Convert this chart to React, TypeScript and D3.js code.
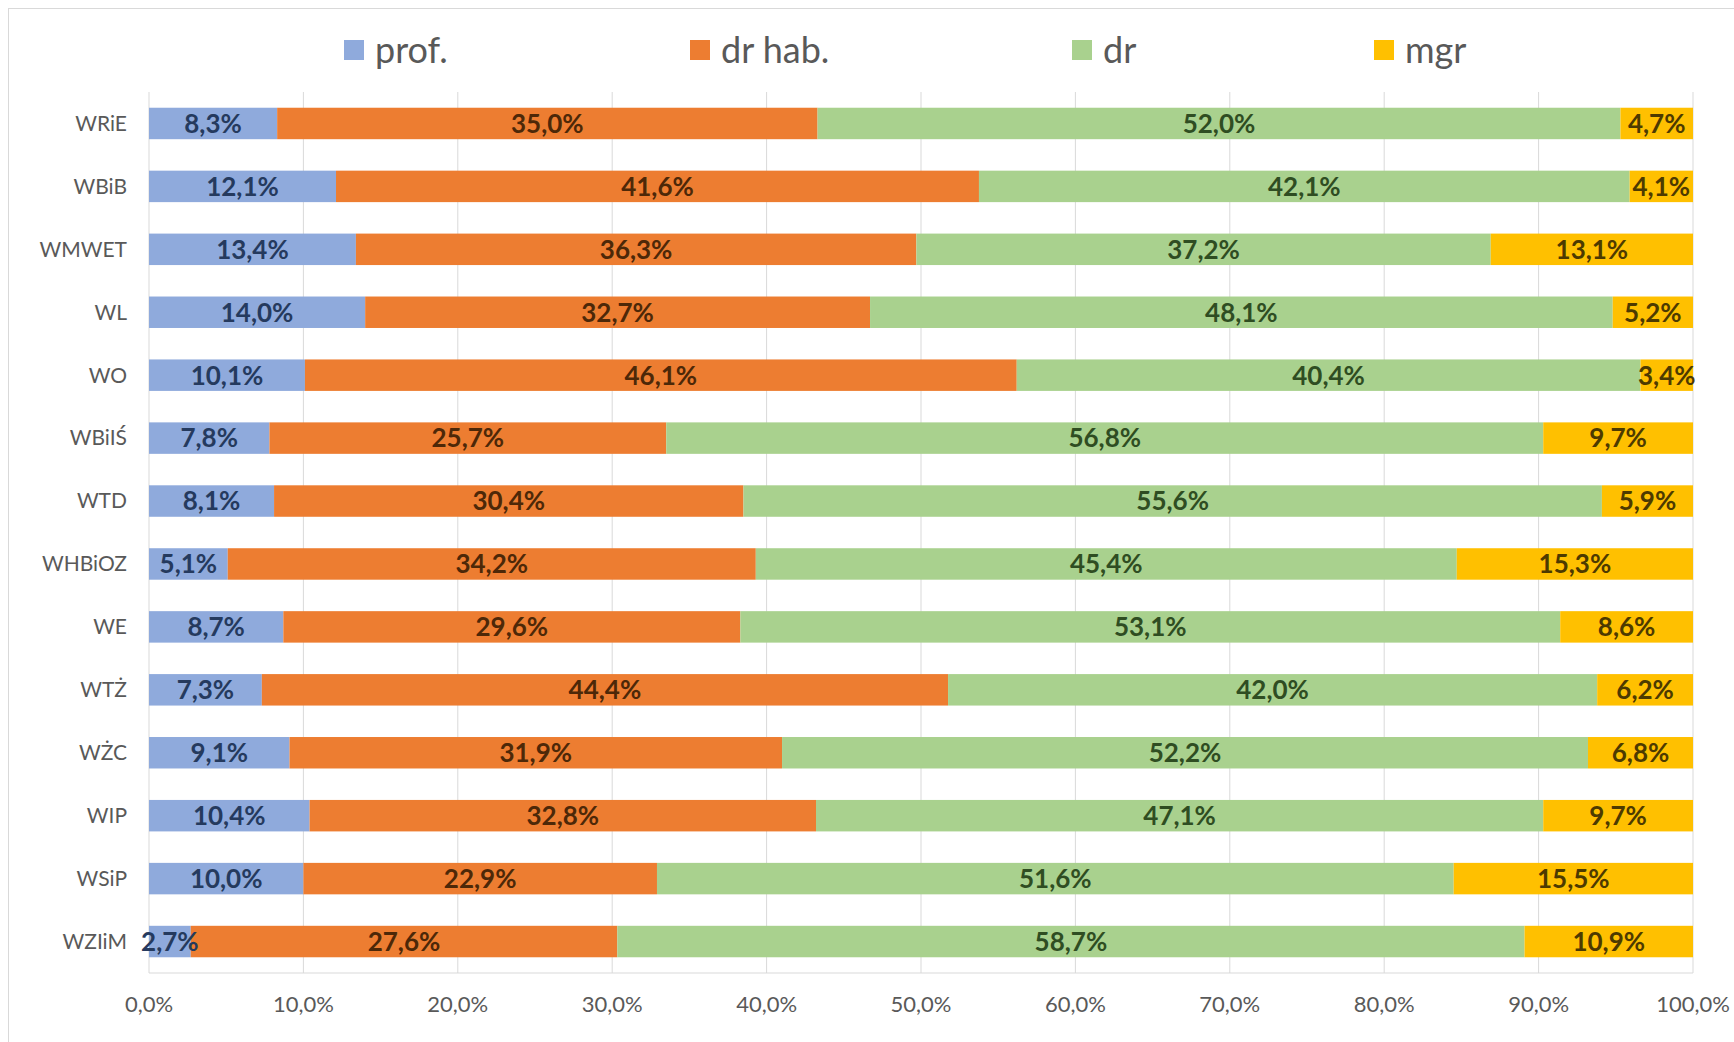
import * as d3 from "d3";

const CATEGORIES = [
  "WRiE", "WBiB", "WMWET", "WL", "WO", "WBiIŚ", "WTD",
  "WHBiOZ", "WE", "WTŻ", "WŻC", "WIP", "WSiP", "WZIiM",
];

const SERIES = ["prof.", "dr hab.", "dr", "mgr"];

const PROF = [8.3, 12.1, 13.4, 14.0, 10.1, 7.8, 8.1, 5.1, 8.7, 7.3, 9.1, 10.4, 10.0, 2.7];
const DR_HAB = [35.0, 41.6, 36.3, 32.7, 46.1, 25.7, 30.4, 34.2, 29.6, 44.4, 31.9, 32.8, 22.9, 27.6];
const DR = [52.0, 42.1, 37.2, 48.1, 40.4, 56.8, 55.6, 45.4, 53.1, 42.0, 52.2, 47.1, 51.6, 58.7];
const MGR = [4.7, 4.1, 13.1, 5.2, 3.4, 9.7, 5.9, 15.3, 8.6, 6.2, 6.8, 9.7, 15.5, 10.9];

const X_TICKS = [0, 0.1, 0.2, 0.3, 0.4, 0.5, 0.6, 0.7, 0.8, 0.9, 1];

const COLORS = ["#8faadc", "#ed7d31", "#a9d18e", "#ffc000"];
const LABEL_COLORS = ["#253a5e", "#4d2808", "#2f4d22", "#4d3a00"];

const WIDTH = 1734;
const HEIGHT = 1042;
const FONT = "Lato, 'Open Sans', sans-serif";

const margin = { top: 92, right: 41, bottom: 69, left: 149 };

const fmt = (v: number) => v.toFixed(1).replace(".", ",") + "%";

const App = () => {
  const rows = CATEGORIES.map((c, i) => ({
    cat: c,
    "prof.": PROF[i],
    "dr hab.": DR_HAB[i],
    dr: DR[i],
    mgr: MGR[i],
  }));

  // 100% stacked, like the spreadsheet chart
  const stack = d3
    .stack<any>()
    .keys(SERIES)
    .offset(d3.stackOffsetExpand);
  const layers = stack(rows);

  const x = d3
    .scaleLinear()
    .domain([0, 1])
    .range([margin.left, WIDTH - margin.right]);

  const y = d3
    .scaleBand()
    .domain(CATEGORIES)
    .range([margin.top, HEIGHT - margin.bottom])
    .paddingInner(0.5)
    .paddingOuter(0.25);

  const legendX = [344, 690, 1072, 1374];

  return (
    <svg
      width={WIDTH}
      height={HEIGHT}
      style={{ position: "absolute", left: 0, top: 0, background: "#fff" }}
      fontFamily={FONT}
    >
      <rect x={8.5} y={8.5} width={1800} height={1100} fill="#fff" stroke="#d9d9d9" />

      {/* legend */}
      {SERIES.map((s, i) => (
        <g key={s} transform={`translate(${legendX[i]}, 50)`}>
          <rect x={0} y={-10} width={20} height={20} fill={COLORS[i]} />
          <text x={31} y={0} dy="0.35em" fontSize={36} fill="#595959">
            {s}
          </text>
        </g>
      ))}

      {/* gridlines */}
      {X_TICKS.map((t) => (
        <line
          key={t}
          x1={x(t)}
          x2={x(t)}
          y1={margin.top}
          y2={HEIGHT - margin.bottom}
          stroke="#d9d9d9"
          strokeWidth={1}
        />
      ))}
      <line
        x1={x(0)}
        x2={x(1)}
        y1={HEIGHT - margin.bottom}
        y2={HEIGHT - margin.bottom}
        stroke="#d9d9d9"
      />

      {/* bars */}
      {layers.map((layer, si) => (
        <g key={layer.key} fill={COLORS[si]}>
          {layer.map((d: any, i: number) => (
            <rect
              key={i}
              x={x(d[0])}
              y={y(d.data.cat)}
              width={x(d[1]) - x(d[0])}
              height={y.bandwidth()}
            />
          ))}
        </g>
      ))}

      {/* data labels */}
      {layers.map((layer, si) => (
        <g key={layer.key} fill={LABEL_COLORS[si]} fontWeight="bold" fontSize={26} textAnchor="middle">
          {layer.map((d: any, i: number) => (
            <text
              key={i}
              x={(x(d[0]) + x(d[1])) / 2}
              y={(y(d.data.cat) ?? 0) + y.bandwidth() / 2}
              dy="0.36em"
            >
              {fmt(d.data[layer.key])}
            </text>
          ))}
        </g>
      ))}

      {/* category axis */}
      {CATEGORIES.map((c) => (
        <text
          key={c}
          x={margin.left - 22}
          y={(y(c) ?? 0) + y.bandwidth() / 2}
          dy="0.35em"
          textAnchor="end"
          fontSize={21}
          fill="#595959"
        >
          {c}
        </text>
      ))}

      {/* value axis */}
      {X_TICKS.map((t) => (
        <text
          key={t}
          x={x(t)}
          y={1004}
          dy="0.35em"
          textAnchor="middle"
          fontSize={22}
          fill="#595959"
        >
          {fmt(t * 100)}
        </text>
      ))}
    </svg>
  );
};

export default App;
